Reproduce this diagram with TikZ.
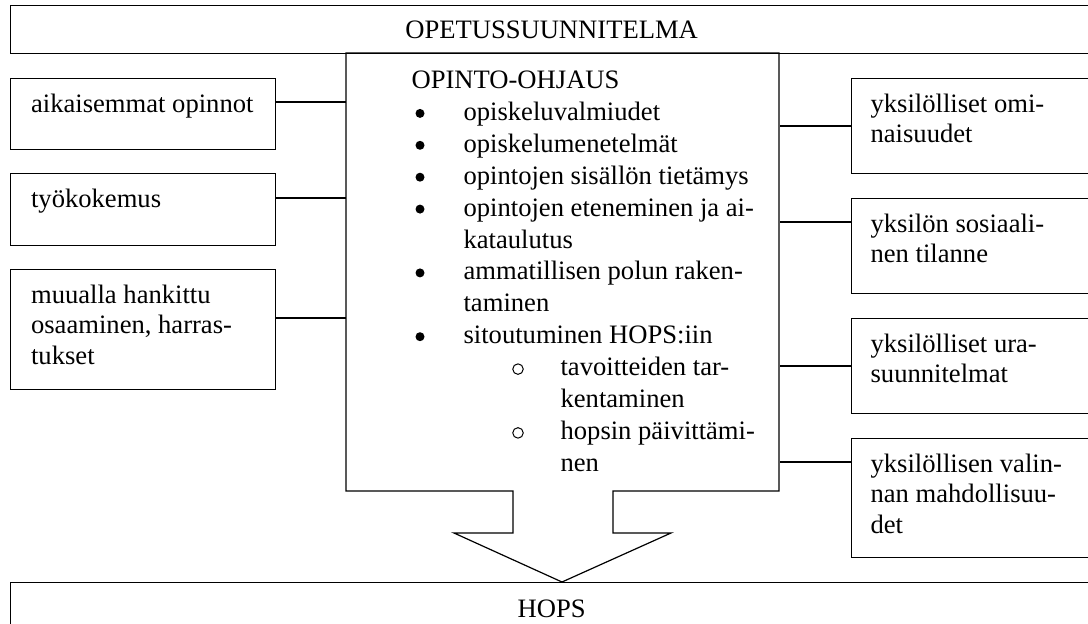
\documentclass[tikz,border=0pt]{standalone}
\usepackage{fontspec}
\setmainfont{Liberation Serif}

\begin{document}
\begin{tikzpicture}[x=1pt, y=-1pt, line width=1.2pt,
    font=\fontsize{26.6}{30.6}\selectfont,
    box/.style={draw, inner sep=0pt, anchor=north west},
    boxtext/.style={anchor=base west, inner sep=0pt},
    listtext/.style={anchor=base west, inner sep=0pt},
    bulletdot/.style={circle, fill, inner sep=0pt, minimum size=9pt},
    bulletring/.style={circle, draw, line width=1pt, inner sep=0pt, minimum size=10.5pt}]
  \clip (0,0) rectangle (1088,624);

  % top and bottom bands
  \node[box, minimum width=1082, minimum height=48] (plan) at (10,5) {OPETUSSUUNNITELMA};
  \node[box, minimum width=1082, minimum height=52] (hops) at (10,582) {HOPS};

  % central box with the arrow
  \node[inner sep=0pt, anchor=north west, minimum width=433, minimum height=438] (ohjaus) at (346,53) {};
  \draw (513,491) -- (346,491) -- (346,53) -- (779,53) -- (779,491) -- (613,491)
    -- (613,533) -- (671,533) -- (562,582) -- (454,533) -- (513,533) -- cycle;

  \node[listtext] (head) at (411,88.5) {OPINTO-OHJAUS};
  \foreach \n/\t in {1/opiskeluvalmiudet, 2/opiskelumenetelmät, 3/opintojen sisällön tietämys,
      4/opintojen eteneminen ja ai-, 5/kataulutus, 6/ammatillisen polun raken-, 7/taminen,
      8/sitoutuminen HOPS:iin}
    \node[listtext] (item\n) at (463,{88.5+31.9*\n}) {\t};
  \foreach \n in {1,2,3,4,6,8}
    \node[bulletdot] (dot\n) at (420,{81.5+31.9*\n}) {};
  \foreach \n/\t in {9/tavoitteiden tar-, 10/kentaminen, 11/hopsin päivittämi-, 12/nen}
    \node[listtext] (sub\n) at (560,{88.5+31.9*\n}) {\t};
  \foreach \n in {9,11}
    \node[bulletring] (ring\n) at (518,{82+31.9*\n}) {};

  % left side
  \node[box, minimum width=265, minimum height=71] (aik) at (10,78) {};
  \node[box, minimum width=265, minimum height=72] (tyo) at (10,173) {};
  \node[box, minimum width=265, minimum height=120] (muu) at (10,269) {};
  \node[boxtext] (aik-t) at ([shift={(20.5,34)}]aik.north west)
    {\parbox[t]{240pt}{aikaisemmat opinnot}};
  \node[boxtext] (tyo-t) at ([shift={(20.5,34)}]tyo.north west)
    {\parbox[t]{240pt}{työkokemus}};
  \node[boxtext] (muu-t) at ([shift={(20.5,34)}]muu.north west)
    {\parbox[t]{240pt}{muualla hankittu\\osaaminen, harras-\\tukset}};

  % right side
  \node[box, minimum width=241, minimum height=95] (omin) at (851,78) {};
  \node[box, minimum width=241, minimum height=95] (sos) at (851,198) {};
  \node[box, minimum width=241, minimum height=95] (ura) at (851,318) {};
  \node[box, minimum width=241, minimum height=119] (valinta) at (851,438) {};
  \node[boxtext] (omin-t) at ([shift={(19,34)}]omin.north west)
    {\parbox[t]{220pt}{yksilölliset omi-\\naisuudet}};
  \node[boxtext] (sos-t) at ([shift={(19,34)}]sos.north west)
    {\parbox[t]{220pt}{yksilön sosiaali-\\nen tilanne}};
  \node[boxtext] (ura-t) at ([shift={(19,34)}]ura.north west)
    {\parbox[t]{220pt}{yksilölliset ura-\\suunnitelmat}};
  \node[boxtext] (valinta-t) at ([shift={(19,34)}]valinta.north west)
    {\parbox[t]{220pt}{yksilöllisen valin-\\nan mahdollisuu-\\det}};

  % connectors
  \draw (aik.east |- 0,102) -- (ohjaus.west |- 0,102);
  \draw (tyo.east |- 0,198) -- (ohjaus.west |- 0,198);
  \draw (muu.east |- 0,318) -- (ohjaus.west |- 0,318);
  \draw (ohjaus.east |- 0,126) -- (omin.west |- 0,126);
  \draw (ohjaus.east |- 0,222) -- (sos.west |- 0,222);
  \draw (ohjaus.east |- 0,366) -- (ura.west |- 0,366);
  \draw (ohjaus.east |- 0,462) -- (valinta.west |- 0,462);
\end{tikzpicture}
\end{document}
